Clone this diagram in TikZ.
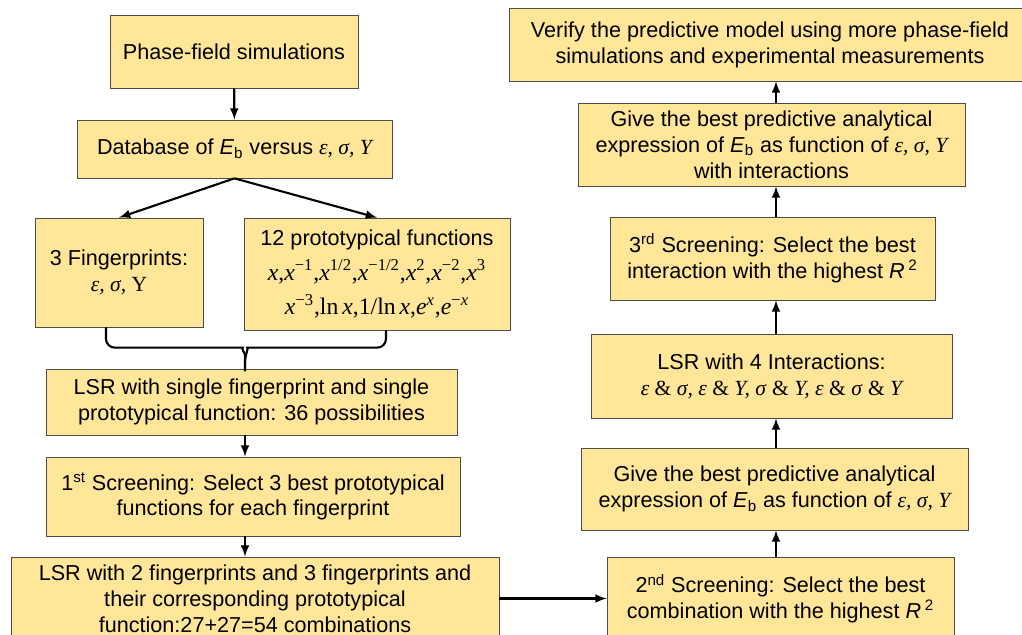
\documentclass[tikz,border=0pt]{standalone}
\usepackage{fontspec}
\setmainfont{Liberation Sans}
\newfontfamily\tms{Liberation Serif}
\usetikzlibrary{calc,positioning,arrows}
\definecolor{boxyel}{RGB}{255,230,153}
\newcommand{\mvar}[1]{{\tms\itshape #1}}
\newcommand{\Eb}{\textit{E}\textsubscript{b}}
\newcommand{\Rsq}{\textit{R}\,\textsuperscript{2}}

\begin{document}
\begin{tikzpicture}[x=0.02cm,y=-0.02cm,
  box/.style 2 args={draw=black!70,fill=boxyel,align=center,inner sep=2pt,
    minimum width=#1*0.02cm,minimum height=#2*0.02cm,
    font=\fontsize{12.3}{14.7}\selectfont},
  flow/.style={->,>=latex,line width=1.2pt}]
  \useasboundingbox (0,0) rectangle (1022,635);
  \clip (0,0) rectangle (1022,635);
  \coordinate (ax) at (245,0);
  \coordinate (bx) at (776,0);

  % left column
  \node[box={248}{73}] (sim) at (234,51.5) {Phase-field simulations};
  \node[box={315}{58}] (db) at (234.5,149) {Database of \Eb{} versus \mvar{ε, σ, Y}};
  \node[box={168}{109}] (fp) at (119,272.5) {3 Fingerprints:\\ {\tms\itshape ε, σ, }{\tms Y}};
  \node[box={266}{112}] (proto) at (377,274) {12 prototypical functions\\[5pt]
    {\fontsize{13.5}{14.7}\selectfont\tms\mvar{x},\mvar{x}\textsuperscript{−1},\mvar{x}\textsuperscript{1/2},\mvar{x}\textsuperscript{−1/2},\mvar{x}\textsuperscript{2},\mvar{x}\textsuperscript{−2},\mvar{x}\textsuperscript{3}}\\[5pt]
    {\fontsize{13.5}{14.7}\selectfont\tms\mvar{x}\textsuperscript{−3},ln\,\mvar{x},1/ln\,\mvar{x},\mvar{e}\textsuperscript{\mvar{x}},\mvar{e}\textsuperscript{−\mvar{x}}}};
  \node[box={411}{66}] (lsr1) at (251.5,402) {LSR with single fingerprint and single\\ prototypical function: 36 possibilities};
  \node[box={414}{79}] (scr1) at (253,496.5) {1\textsuperscript{st} Screening: Select 3 best prototypical\\ functions for each fingerprint};
  \node[box={488}{83}] (lsr2) at (255,598.5) {LSR with 2 fingerprints and 3 fingerprints and\\ their corresponding prototypical\\ function:27+27=54 combinations};

  % right column
  \node[box={347}{83}] (scr2) at (780.5,598.5) {2\textsuperscript{nd} Screening: Select the best\\ combination with the highest \Rsq};
  \node[box={387}{82}] (best1) at (774.5,489) {Give the best predictive analytical\\ expression of \Eb{} as function of \mvar{ε, σ, Y}};
  \node[box={361}{84}] (lsr4) at (771.5,376) {LSR with 4 Interactions:\\
    \mvar{ε \textup{\&} σ, ε \textup{\&} Y, σ \textup{\&} Y, ε \textup{\&} σ \textup{\&} Y}};
  \node[box={325}{83}] (scr3) at (772.5,258.5) {3\textsuperscript{rd} Screening: Select the best\\ interaction with the highest \Rsq};
  \node[box={387}{83}] (best2) at (771.5,144.5) {Give the best predictive analytical\\ expression of \Eb{} as function of \mvar{ε, σ, Y}\\ with interactions};
  \node[box={522}{73}] (verify) at (770,44.5) {Verify the predictive model using more phase-field\\ simulations and experimental measurements};

  \draw[flow] (sim) -- (db);
  \draw[flow] (db.south) -- (fp.north);
  \draw[flow] (db.south) -- (proto.north);
  % brace joining the two boxes
  \draw[line width=1.2pt,rounded corners=5pt] ($(fp.south)+(-13,0)$) |- ($(lsr1.north -| ax)+(-11,-21)$)
    .. controls +(7,0) and +(0,-8) .. ($(lsr1.north -| ax)+(0,-6)$) -- (lsr1.north -| ax);
  \draw[line width=1.2pt,rounded corners=5pt] ($(proto.south)+(9,0)$) |- ($(lsr1.north -| ax)+(11,-21)$)
    .. controls +(-7,0) and +(0,-8) .. ($(lsr1.north -| ax)+(0,-6)$);
  \draw[flow] (lsr1.south -| ax) -- (scr1.north -| ax);
  \draw[flow] (scr1.south -| ax) -- (lsr2.north -| ax);
  \draw[flow] (lsr2) -- (scr2);
  \draw[flow] (scr2.north -| bx) -- (best1.south -| bx);
  \draw[flow] (best1.north -| bx) -- (lsr4.south -| bx);
  \draw[flow] (lsr4.north -| bx) -- (scr3.south -| bx);
  \draw[flow] (scr3.north -| bx) -- (best2.south -| bx);
  \draw[flow] (best2.north -| bx) -- (verify.south -| bx);
\end{tikzpicture}
\end{document}
